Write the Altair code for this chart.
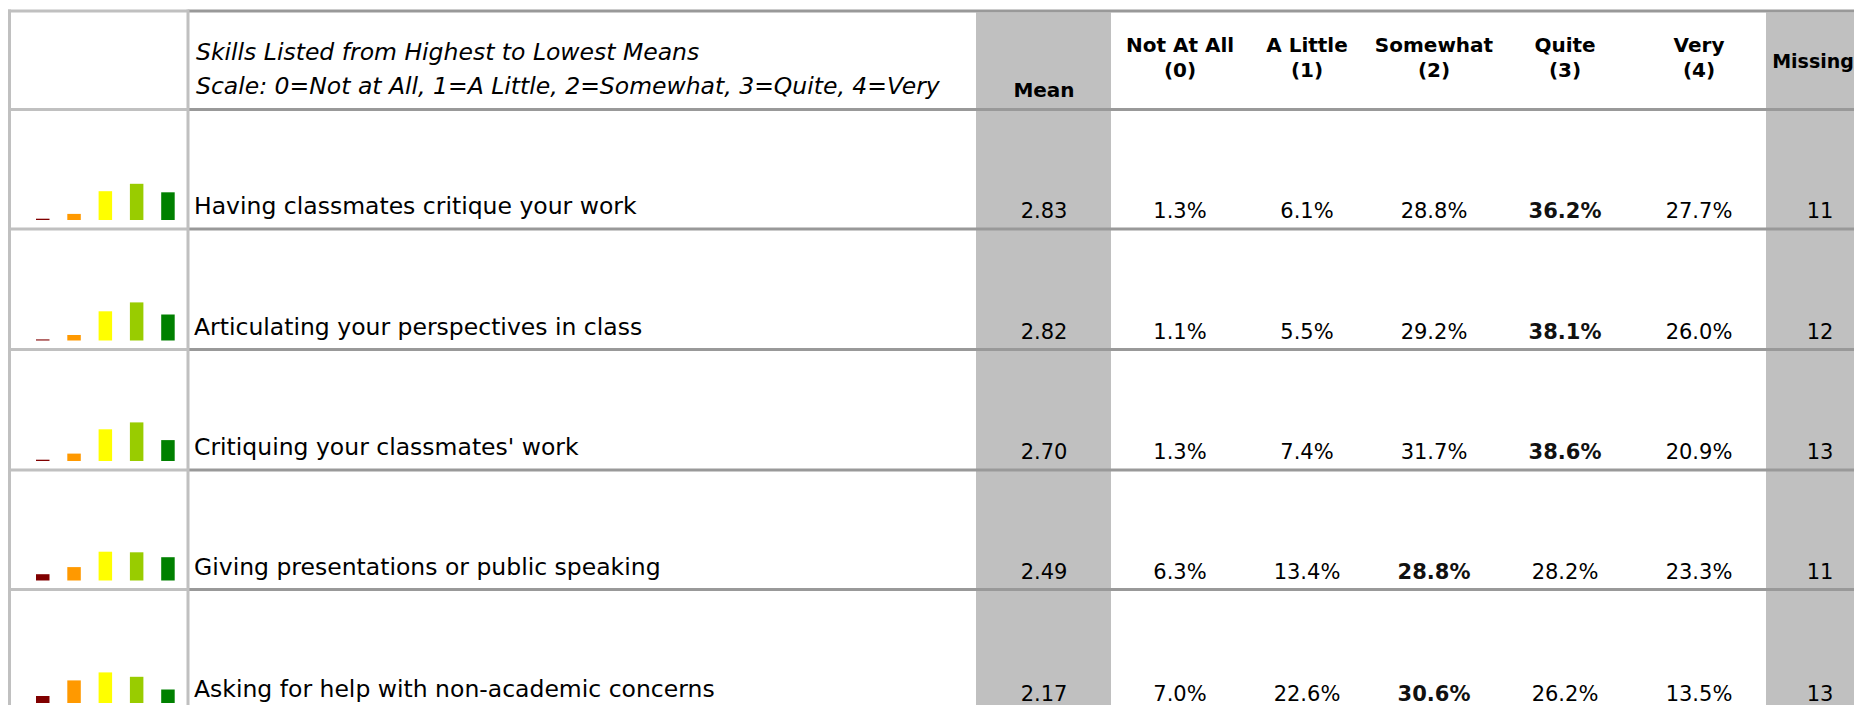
import altair as alt
import pandas as pd

# ---------------- data ----------------
skills = [
    "Having classmates critique your work",
    "Articulating your perspectives in class",
    "Critiquing your classmates' work",
    "Giving presentations or public speaking",
    "Asking for help with non-academic concerns",
]
means = [2.83, 2.82, 2.70, 2.49, 2.17]
not_at_all = [1.3, 1.1, 1.3, 6.3, 7.0]
a_little = [6.1, 5.5, 7.4, 13.4, 22.6]
somewhat = [28.8, 29.2, 31.7, 28.8, 30.6]
quite = [36.2, 38.1, 38.6, 28.2, 26.2]
very = [27.7, 26.0, 20.9, 23.3, 13.5]
missing = [11, 12, 13, 11, 13]

cat_heads = [("Not At All", "(0)"), ("A Little", "(1)"), ("Somewhat", "(2)"),
             ("Quite", "(3)"), ("Very", "(4)")]
header_lines = ["Skills Listed from Highest to Lowest Means",
                "Scale: 0=Not at All, 1=A Little, 2=Somewhat, 3=Quite, 4=Very"]

# ---------------- layout / style (page pixels) ----------------
W, H = 1846, 697
M = 8
FONT = "DejaVu Sans"
cat_colors = ["#800000", "#ff9900", "#ffff00", "#99cc00", "#008000"]
GRAY_BG = "#c0c0c0"
LINE_DARK = "#999999"
LINE_LIGHT = "#c0c0c0"

top_y = 11
head_bottom = 109.5
row_bottoms = [229, 349.5, 470, 589.5, 712]
left_x, div_x, right_x = 9.5, 188, 1900
mean_col = (976, 1111)
miss_col = (1766, 1880)
mean_cx = 1044
cat_cx = [1180, 1307, 1434, 1565, 1699]
miss_cx = 1820
miss_head_cx = 1813
label_x = 194
bar_x0, bar_step, bar_w = 36, 31.3, 13.5
PX_PER_PCT = 1.0

xs = alt.Scale(domain=[M, M + W], nice=False, zero=False)
ys = alt.Scale(domain=[M, M + H], nice=False, zero=False, reverse=True)

def X(f):
    return alt.X(f, type="quantitative", scale=xs, axis=None)

def Y(f):
    return alt.Y(f, type="quantitative", scale=ys, axis=None)

# ---------------- tables ----------------
series = [not_at_all, a_little, somewhat, quite, very]

bg = pd.DataFrame({
    "x": [mean_col[0], miss_col[0]], "x2": [mean_col[1], miss_col[1]],
    "y": [top_y + 1.5] * 2, "y2": [row_bottoms[-1]] * 2,
})

hl = []
for yy in [top_y, head_bottom] + row_bottoms[:-1]:
    hl.append({"x": M, "x2": div_x, "y": yy, "c": LINE_LIGHT})
    hl.append({"x": div_x, "x2": right_x, "y": yy, "c": LINE_DARK})
hl = pd.DataFrame(hl)
vl = pd.DataFrame({"x": [left_x, div_x], "y": [top_y - 1.5] * 2,
                   "y2": [row_bottoms[-1]] * 2, "c": [LINE_LIGHT] * 2})

bars = []
for r in range(len(skills)):
    base = row_bottoms[r] - 9
    for k, s in enumerate(series):
        x0 = bar_x0 + k * bar_step
        bars.append({"x": x0, "x2": x0 + bar_w, "y": base - s[r] * PX_PER_PCT,
                     "y2": base, "c": cat_colors[k]})
bars = pd.DataFrame(bars)

labels = pd.DataFrame({"x": [label_x] * len(skills),
                       "y": [b - 15 for b in row_bottoms], "t": skills})

nums = []
for r in range(len(skills)):
    yb = row_bottoms[r] - 11
    nums.append({"x": mean_cx, "y": yb, "t": f"{means[r]:.2f}", "b": 0})
    vals = [s[r] for s in series]
    mx = max(vals)
    for k, v in enumerate(vals):
        nums.append({"x": cat_cx[k], "y": yb, "t": f"{v:.1f}%", "b": int(v == mx)})
    nums.append({"x": miss_cx, "y": yb, "t": str(missing[r]), "b": 0})
nums = pd.DataFrame(nums)

heads = []
for k, (a, b) in enumerate(cat_heads):
    heads.append({"x": cat_cx[k], "y": 52, "t": a})
    heads.append({"x": cat_cx[k], "y": 77, "t": b})
heads.append({"x": mean_cx, "y": 97, "t": "Mean"})
heads = pd.DataFrame(heads)
miss_head = pd.DataFrame({"x": [miss_head_cx], "y": [68], "t": ["Missing"]})

ital = pd.DataFrame({"x": [196, 196], "y": [60, 94], "t": header_lines})

# ---------------- layers ----------------
l_bg = alt.Chart(bg).mark_rect(color=GRAY_BG).encode(
    x=X("x"), x2="x2", y=Y("y"), y2="y2")
l_hl = alt.Chart(hl).mark_rule(strokeWidth=3).encode(
    x=X("x"), x2="x2", y=Y("y"), color=alt.Color("c:N", scale=None))
l_vl = alt.Chart(vl).mark_rule(strokeWidth=3).encode(
    x=X("x"), y=Y("y"), y2="y2", color=alt.Color("c:N", scale=None))
l_bars = alt.Chart(bars).mark_rect().encode(
    x=X("x"), x2="x2", y=Y("y"), y2="y2", color=alt.Color("c:N", scale=None))
l_labels = alt.Chart(labels).mark_text(
    font=FONT, fontSize=23.5, align="left", baseline="alphabetic", color="black"
).encode(x=X("x"), y=Y("y"), text="t:N")
l_nums = alt.Chart(nums).transform_filter("datum.b == 0").mark_text(
    font=FONT, fontSize=21, align="center", baseline="alphabetic", color="black"
).encode(x=X("x"), y=Y("y"), text="t:N")
l_nums_b = alt.Chart(nums).transform_filter("datum.b == 1").mark_text(
    font=FONT, fontSize=21, fontWeight="bold", align="center", baseline="alphabetic",
    color="#111111"
).encode(x=X("x"), y=Y("y"), text="t:N")
l_heads = alt.Chart(heads).mark_text(
    font=FONT, fontSize=20, fontWeight="bold", align="center", baseline="alphabetic",
    color="black"
).encode(x=X("x"), y=Y("y"), text="t:N")
l_miss_head = alt.Chart(miss_head).mark_text(
    font=FONT, fontSize=19, fontWeight="bold", align="center", baseline="alphabetic",
    color="black"
).encode(x=X("x"), y=Y("y"), text="t:N")
l_ital = alt.Chart(ital).mark_text(
    font=FONT, fontSize=23.5, fontStyle="italic", align="left", baseline="alphabetic",
    color="black"
).encode(x=X("x"), y=Y("y"), text="t:N")

chart = alt.layer(
    l_bg, l_hl, l_vl, l_bars, l_labels, l_nums, l_nums_b, l_heads, l_miss_head, l_ital
).properties(
    width=W, height=H, padding=0, autosize=alt.AutoSizeParams(type="none")
).configure_view(stroke=None)

chart.save("out.html", embed_options={"renderer": "svg", "actions": False})
